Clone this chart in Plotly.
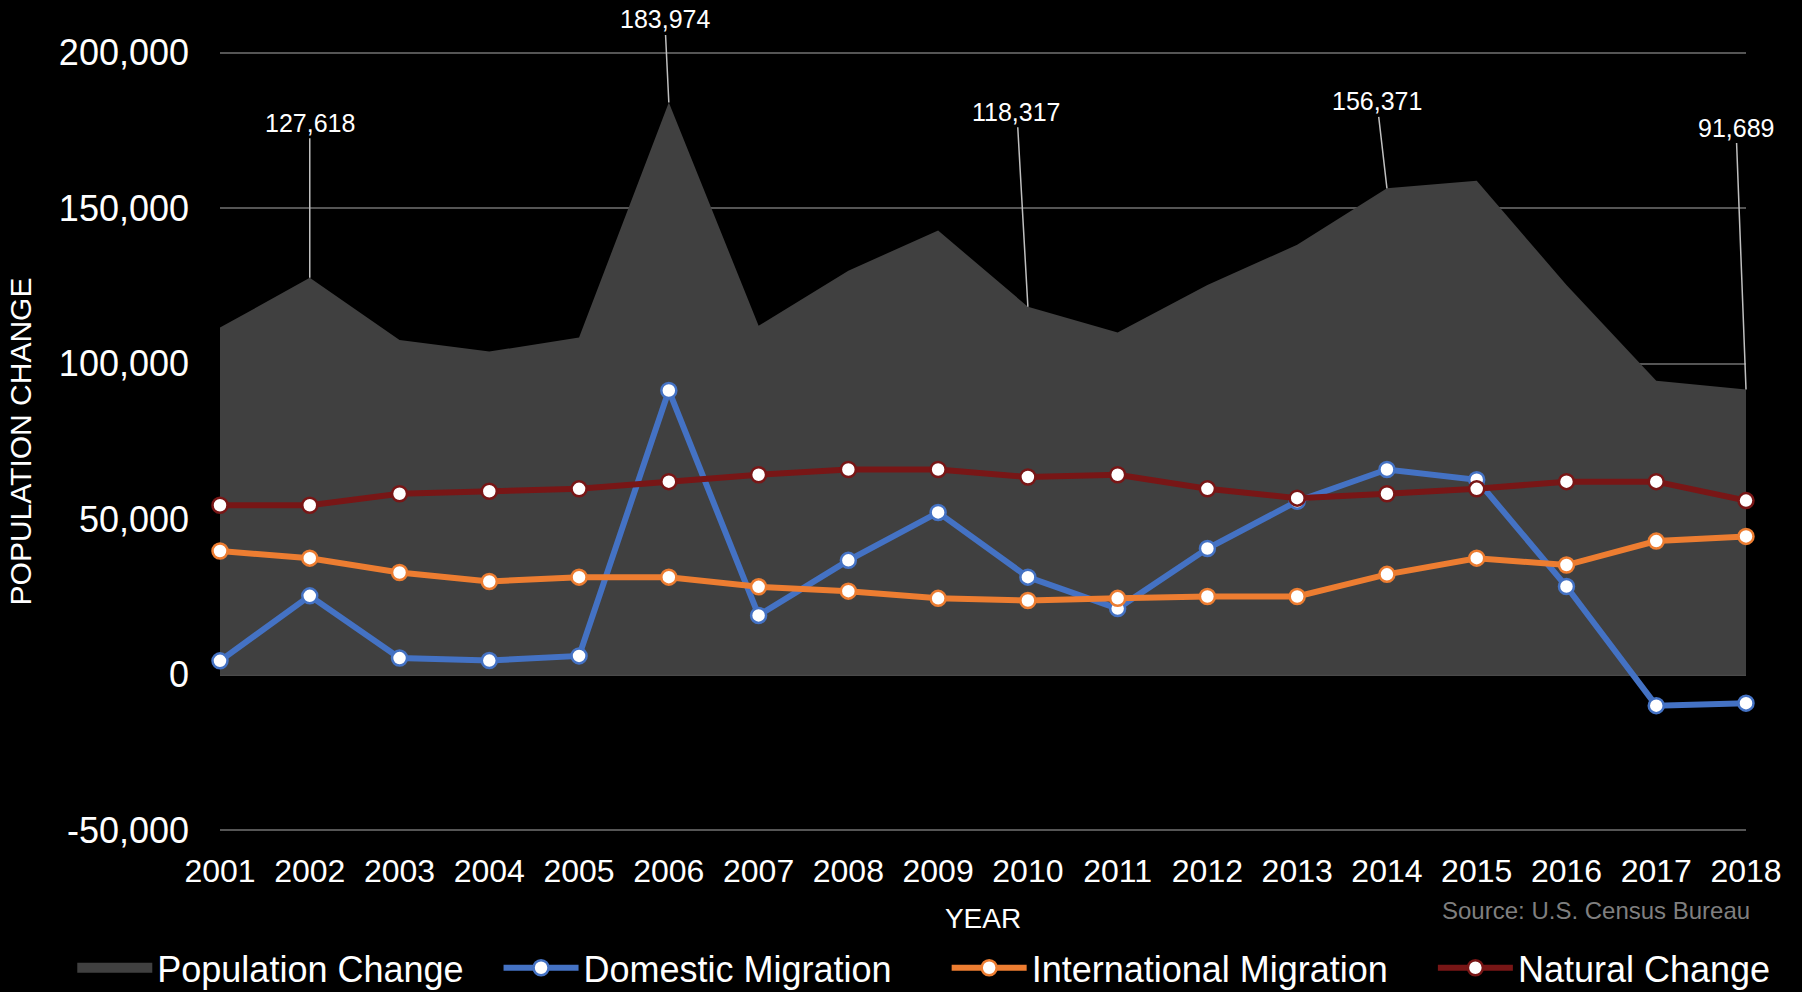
import plotly.graph_objects as go

years = list(range(2001, 2019))

population_change = [111600, 127618, 107600, 103900, 108400, 183974, 112200, 129900,
                     142800, 118317, 110000, 125300, 138200, 156371, 158800, 125300,
                     94500, 91689]
domestic_migration = [4500, 25400, 5400, 4600, 6100, 91400, 19100, 36800,
                      52200, 31400, 21300, 40600, 55800, 66000, 62700, 28400,
                      -9900, -9100]
international_migration = [39800, 37500, 32900, 30000, 31400, 31400, 28300, 26900,
                           24600, 23900, 24600, 25200, 25200, 32300, 37500, 35300,
                           43000, 44500]
natural_change = [54500, 54500, 58200, 59000, 59800, 62100, 64300, 66000,
                  66000, 63600, 64300, 59800, 56800, 58200, 59800, 62100,
                  62100, 56000]

labeled_years = [2002, 2006, 2010, 2014, 2018]
label_offsets = [(0, -155), (-4, -83), (-11, -195), (-10, -87), (-10, -262)]

y_tickvals = [-50000, 0, 50000, 100000, 150000, 200000]
y_ticktext = ["-50,000", "0", "50,000", "100,000", "150,000", "200,000"]

FONT = "Liberation Sans, Arial, sans-serif"
NB = "\u00a0"

fig = go.Figure()

fig.add_trace(go.Scatter(
    x=years, y=population_change, name="Population Change",
    mode="lines", fill="tozeroy", fillcolor="#404040",
    line=dict(width=0, color="#404040"), hoverinfo="x+y",
    legendgroup="pop", showlegend=False,
))
# legend entry for the area (wide swatch)
fig.add_trace(go.Scatter(
    x=[None], y=[None], name="Population Change" + NB * 3, mode="lines",
    line=dict(width=22, color="#404040"), legendgroup="pop", hoverinfo="skip",
))

series = [
    ("Domestic Migration", domestic_migration, "#4472C4", 5),
    ("International Migration", international_migration, "#ED7D31", 4),
    ("Natural Change", natural_change, "#781616", 0),
]
for name, vals, color, pad in series:
    fig.add_trace(go.Scatter(
        x=years, y=vals, name=name + NB * pad, mode="lines+markers",
        line=dict(color=color, width=6),
        marker=dict(size=15, color="white", line=dict(color=color, width=2.5)),
        cliponaxis=False,
    ))

for yr, (ax, ay) in zip(labeled_years, label_offsets):
    val = population_change[years.index(yr)]
    fig.add_annotation(
        x=yr, y=val, text=f"{val:,}", showarrow=True, arrowhead=0,
        arrowwidth=1.5, arrowcolor="#BFBFBF", ax=ax, ay=ay, standoff=0,
        font=dict(family=FONT, size=25, color="white"),
    )

fig.add_annotation(
    xref="paper", yref="paper", x=1.004, y=-0.1004, xanchor="right", yanchor="middle",
    text="Source: U.S. Census Bureau", showarrow=False,
    font=dict(family=FONT, size=24, color="#7F7F7F"),
)

fig.update_layout(
    width=1802, height=992,
    paper_bgcolor="black", plot_bgcolor="black",
    margin=dict(l=220, r=56, t=51, b=160, autoexpand=False),
    font=dict(family=FONT, color="white"),
    showlegend=True,
    legend=dict(
        orientation="h", x=-0.0968, xanchor="left", y=-0.174, yanchor="middle",
        font=dict(family=FONT, size=36, color="white"),
        itemwidth=75, bgcolor="rgba(0,0,0,0)", traceorder="normal",
    ),
    xaxis=dict(
        range=[2001, 2018], tickvals=years, ticktext=[str(y) for y in years],
        showgrid=False, zeroline=False, showline=False,
        tickfont=dict(family=FONT, size=32, color="white"),
        ticklabelstandoff=17,
        title=dict(text="YEAR", font=dict(family=FONT, size=28, color="white"), standoff=20),
    ),
    yaxis=dict(
        range=[-50500, 200500], tickvals=y_tickvals, ticktext=y_ticktext,
        showgrid=True, gridcolor="#555555", gridwidth=2,
        zeroline=True, zerolinecolor="#4A4A4A", zerolinewidth=2, showline=False,
        tickfont=dict(family=FONT, size=36, color="white"),
        ticklabelstandoff=30,
        title=dict(text="POPULATION CHANGE", font=dict(family=FONT, size=30, color="white"), standoff=18),
    ),
)

fig.write_html("out.html")
